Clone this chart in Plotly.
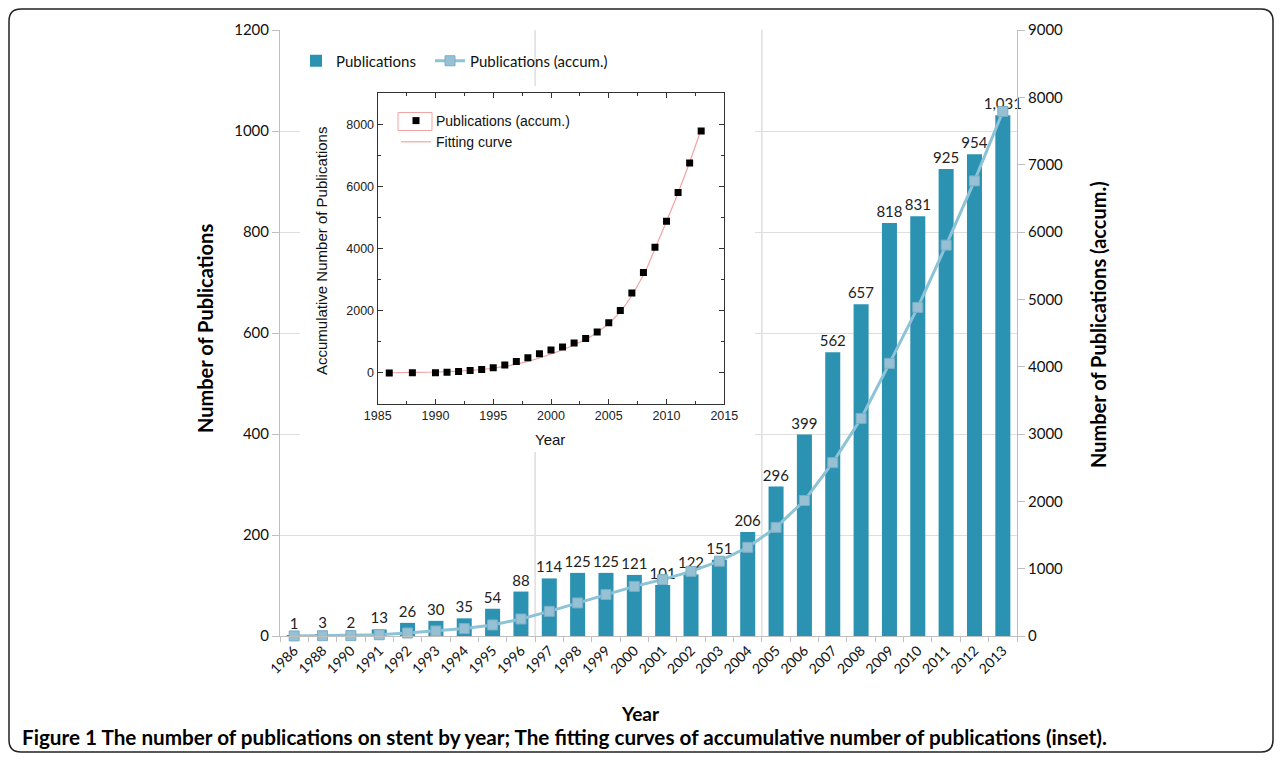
import plotly.graph_objects as go

# ---------------- data ----------------
years = ["1986", "1988", "1990", "1991", "1992", "1993", "1994", "1995", "1996", "1997",
         "1998", "1999", "2000", "2001", "2002", "2003", "2004", "2005", "2006", "2007",
         "2008", "2009", "2010", "2011", "2012", "2013"]
publications = [1, 3, 2, 13, 26, 30, 35, 54, 88, 114, 125, 125, 121, 101, 122, 151, 206,
                296, 399, 562, 657, 818, 831, 925, 954, 1031]
accumulated = [1, 4, 6, 19, 45, 75, 110, 164, 252, 366, 491, 616, 737, 838, 960, 1111,
               1317, 1613, 2012, 2574, 3231, 4049, 4880, 5805, 6759, 7790]
inset_years = [1986, 1988, 1990, 1991, 1992, 1993, 1994, 1995, 1996, 1997, 1998, 1999,
               2000, 2001, 2002, 2003, 2004, 2005, 2006, 2007, 2008, 2009, 2010, 2011,
               2012, 2013]
fit_years = [1986, 1988, 1990, 1992, 1994, 1996, 1998, 2000, 2002, 2004, 2006, 2008,
             2009, 2010, 2011, 2012, 2013]
fit_values = [5, 15, 30, 60, 110, 210, 370, 610, 900, 1300, 1970, 3150, 4000, 4880,
              5800, 6780, 7850]
left_ticks = [0, 200, 400, 600, 800, 1000, 1200]
right_ticks = [0, 1000, 2000, 3000, 4000, 5000, 6000, 7000, 8000, 9000]

# ---------------- layout helpers (pixel -> paper) ----------------
W, H = 1281, 761
X0, X1, Y0, Y1 = 280, 1017, 30, 636


def px(x):
    return (x - X0) / (X1 - X0)


def py(y):
    return (Y1 - y) / (Y1 - Y0)


MAIN_FONT = "Lato"
INSET_FONT = "Liberation Sans"

fig = go.Figure()

# main bars
fig.add_trace(go.Bar(
    x=years, y=publications, name="Publications",
    marker=dict(color="#2b92b2", line=dict(width=0)),
    text=[f"{v:,}" for v in publications], textposition="outside",
    textfont=dict(family=MAIN_FONT, size=15, color="#222222"),
    constraintext="none", cliponaxis=False,
    xaxis="x", yaxis="y", legend="legend",
))

# accumulated line
fig.add_trace(go.Scatter(
    x=years, y=accumulated, name="Publications (accum.)",
    mode="lines+markers",
    line=dict(color="#8cc3d7", width=3),
    marker=dict(symbol="square", size=10, color="#96c0d3",
                line=dict(color="#7aaec6", width=1)),
    xaxis="x", yaxis="y2", legend="legend3", cliponaxis=False,
))

# invisible cover subplot (white background behind the inset image)
fig.add_trace(go.Scatter(x=[None], y=[None], xaxis="x3", yaxis="y3",
                         showlegend=False, hoverinfo="skip"))

# inset: fitting curve + points
fig.add_trace(go.Scatter(
    x=fit_years, y=fit_values, name="Fitting curve", mode="lines",
    line=dict(color="#f4a3a3", width=1.2, shape="spline"),
    xaxis="x4", yaxis="y4", legend="legend2", legendrank=2,
))
fig.add_trace(go.Scatter(
    x=inset_years, y=accumulated, name="Publications (accum.)", mode="markers",
    marker=dict(symbol="square", size=7, color="#000000"),
    xaxis="x4", yaxis="y4", legend="legend2", legendrank=1,
))

grey = "#bfbfbf"
main_legend = dict(
    orientation="h", y=py(61), xanchor="left", yanchor="middle",
    bgcolor="rgba(0,0,0,0)", font=dict(family=MAIN_FONT, size=15, color="#111"),
    itemwidth=30,
)

fig.update_layout(
    width=W, height=H,
    margin=dict(l=X0, r=W - X1, t=Y0, b=H - Y1, autoexpand=False),
    paper_bgcolor="white", plot_bgcolor="white",
    bargap=0.47,
    font=dict(family=MAIN_FONT, size=14, color="#000000"),
    xaxis=dict(
        type="category", categoryorder="array", categoryarray=years,
        range=[-0.5, len(years) - 0.5],
        domain=[0, 1], anchor="y",
        showline=True, linecolor=grey, linewidth=1,
        ticks="outside", tickson="boundaries", ticklen=5, tickcolor=grey,
        tickangle=-45, tickfont=dict(family=MAIN_FONT, size=14, color="#111"),
        showgrid=False, zeroline=False,
    ),
    yaxis=dict(
        range=[0, 1200], tickvals=left_ticks, domain=[0, 1], anchor="x",
        showline=True, linecolor=grey, linewidth=1,
        ticks="outside", ticklen=7, tickcolor=grey,
        showgrid=True, gridcolor="#dedede", gridwidth=1, zeroline=False,
        tickfont=dict(family=MAIN_FONT, size=15, color="#111"),
    ),
    yaxis2=dict(
        range=[0, 9000], tickvals=right_ticks, overlaying="y", side="right",
        anchor="x", showline=True, linecolor=grey, linewidth=1,
        ticks="outside", ticklen=7, tickcolor=grey,
        showgrid=False, zeroline=False,
        tickfont=dict(family=MAIN_FONT, size=15, color="#111"),
    ),
    xaxis3=dict(domain=[px(300), px(755)], anchor="y3", visible=False,
                range=[0, 1], fixedrange=True),
    yaxis3=dict(domain=[py(452), py(86)], anchor="x3", visible=False,
                range=[0, 1], fixedrange=True),
    xaxis4=dict(
        domain=[px(377.7), px(724.3)], anchor="y4", range=[1985, 2015],
        tick0=1985, dtick=5, ticks="inside", ticklen=5, tickwidth=1,
        tickcolor="#333", showline=True, linecolor="#333", linewidth=1.3,
        mirror="ticks", showgrid=False, zeroline=False,
        minor=dict(dtick=2.5, tick0=1985, ticks="inside", ticklen=3,
                   tickcolor="#333", showgrid=False),
        tickfont=dict(family=INSET_FONT, size=12.5, color="#222"),
    ),
    yaxis4=dict(
        domain=[py(404), py(93.3)], anchor="x4", range=[-1000, 9000],
        tick0=0, dtick=2000, ticks="inside", ticklen=5, tickwidth=1,
        tickcolor="#333", showline=True, linecolor="#333", linewidth=1.3,
        mirror="ticks", showgrid=False, zeroline=False,
        minor=dict(dtick=1000, tick0=0, ticks="inside", ticklen=3,
                   tickcolor="#333", showgrid=False),
        tickfont=dict(family=INSET_FONT, size=12.5, color="#222"),
    ),
    legend=dict(main_legend, x=px(296)),
    legend3=dict(main_legend, x=px(430)),
    legend2=dict(
        x=px(396), y=py(105), xanchor="left", yanchor="top",
        bgcolor="rgba(0,0,0,0)", tracegroupgap=0,
        font=dict(family=INSET_FONT, size=14, color="#111"),
    ),
    showlegend=True,
)

# faint vertical rules seen in the original layout
for xv in [8.5, 16.5]:
    fig.add_shape(type="line", xref="x", yref="paper", x0=xv, x1=xv, y0=0, y1=1,
                  line=dict(color="#dedede", width=1.5), layer="below")

# pink frame around the inset legend marker sample
fig.add_shape(type="rect", xref="paper", yref="paper",
              x0=px(398), x1=px(432), y0=py(130.5), y1=py(112.5),
              line=dict(color="#f4a3a3", width=1), layer="above")

# rounded figure frame
r = 12
L, T, R, B = 9, 9, 1273, 752
path = (f"M {px(L + r)},{py(T)} L {px(R - r)},{py(T)} Q {px(R)},{py(T)} {px(R)},{py(T + r)} "
        f"L {px(R)},{py(B - r)} Q {px(R)},{py(B)} {px(R - r)},{py(B)} "
        f"L {px(L + r)},{py(B)} Q {px(L)},{py(B)} {px(L)},{py(B - r)} "
        f"L {px(L)},{py(T + r)} Q {px(L)},{py(T)} {px(L + r)},{py(T)} Z")
fig.add_shape(type="path", xref="paper", yref="paper", path=path,
              line=dict(color="#222222", width=1.5), layer="above")

# axis titles & caption
def note(text, x, y, size, family, angle=0, xanchor="center", color="#000"):
    fig.add_annotation(text=text, xref="paper", yref="paper", x=px(x), y=py(y),
                       xanchor=xanchor, yanchor="middle", textangle=angle,
                       showarrow=False, font=dict(family=family, size=size, color=color))


note("<b>Number of Publications</b>", 205, 329, 20, MAIN_FONT, angle=-90)
note("<b>Number of Publications (accum.)</b>", 1098, 325, 20, MAIN_FONT, angle=-90)
note("<b>Year</b>", 640, 713, 19, MAIN_FONT)
note("Year", 550, 439, 15, INSET_FONT, color="#111")
note("Accumulative Number of Publications", 321, 251, 15, INSET_FONT, angle=-90, color="#111")
note("<b>Figure 1 The number of publications on stent by year; The fitting curves of "
     "accumulative number of publications (inset).</b>", 20, 737, 20.7, MAIN_FONT,
     xanchor="left")

fig.write_html("out.html", config={"displayModeBar": False},
               post_script="document.body.style.margin='0';")
